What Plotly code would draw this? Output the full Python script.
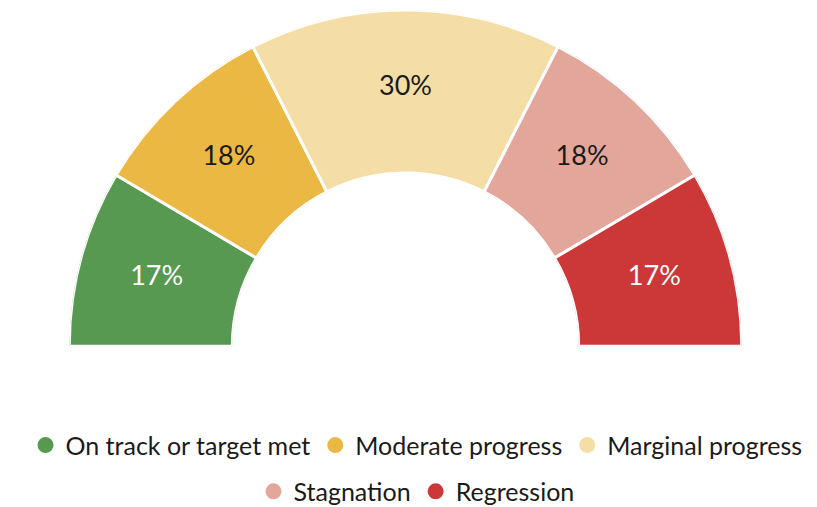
import plotly.graph_objects as go
import numpy as np

categories = ["On track or target met", "Moderate progress", "Marginal progress", "Stagnation", "Regression"]
values = [17, 18, 30, 18, 17]
colors = ["#579950", "#eab843", "#f4dea6", "#e3a69b", "#cc3838"]
text_colors = ["#ffffff", "#1a1a1a", "#1a1a1a", "#1a1a1a", "#ffffff"]

total = sum(values)
widths = [v / total * 180 for v in values]
starts = np.concatenate([[0], np.cumsum(widths)[:-1]])
centers = [s + w / 2 for s, w in zip(starts, widths)]

FONT = "Lato"

fig = go.Figure()
fig.add_trace(go.Barpolar(
    r=[1] * len(values), theta=centers, width=widths,
    marker=dict(color=colors, line=dict(color="white", width=3)),
    showlegend=False, hoverinfo="skip",
))
fig.add_trace(go.Scatterpolar(
    r=[0.52] * len(values), theta=centers, mode="text",
    text=[f"{v}%" for v in values],
    textfont=dict(family=FONT, size=27, color=text_colors),
    showlegend=False, hoverinfo="skip",
))
for i, (c, col) in enumerate(zip(categories, colors)):
    fig.add_trace(go.Scatterpolar(
        r=[None], theta=[None], mode="markers", name=c,
        marker=dict(color=col, size=22, symbol="circle"),
        legend="legend" if i < 3 else "legend2",
    ))

fig.update_layout(
    width=817, height=507,
    margin=dict(l=0, r=0, t=0, b=0),
    paper_bgcolor="white", plot_bgcolor="white",
    font=dict(family=FONT, size=25, color="#1a1a1a"),
    polar=dict(
        domain=dict(x=[48 / 817, 747 / 817], y=[162 / 507, 505 / 507]),
        sector=[0, 180], hole=0.515,
        bgcolor="white",
        angularaxis=dict(direction="clockwise", rotation=180, visible=False, showgrid=False),
        radialaxis=dict(range=[0, 1], visible=False, showgrid=False),
    ),
    legend=dict(orientation="h", x=0.5, xanchor="center", y=0.12, yanchor="middle",
                font=dict(family=FONT, size=25), itemsizing="trace", tracegroupgap=0,
                itemclick=False),
    legend2=dict(orientation="h", x=0.5, xanchor="center", y=0.027, yanchor="middle",
                 font=dict(family=FONT, size=25), itemsizing="trace", itemclick=False),
)

fig.write_html("out.html")
